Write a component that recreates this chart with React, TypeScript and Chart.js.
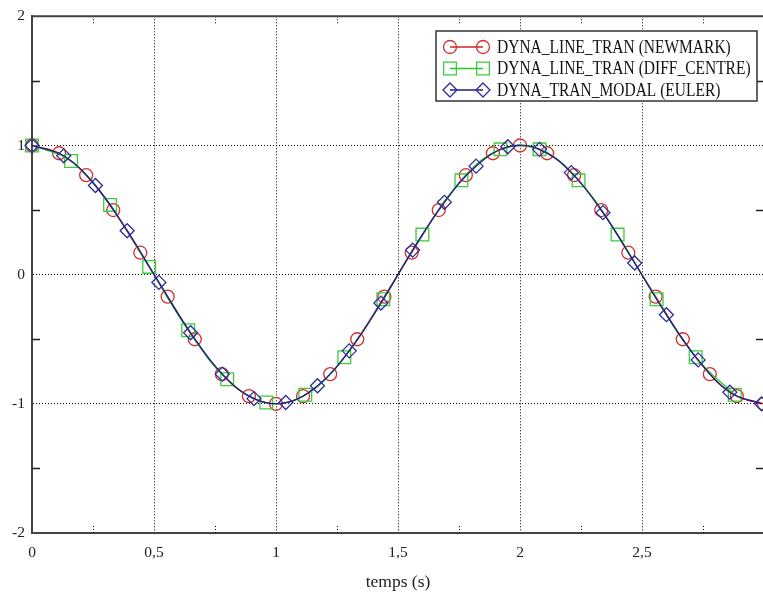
import React, { useEffect, useRef } from 'react';
import { Chart, registerables } from 'chart.js';

Chart.register(...registerables);

// ---- data ----
const seriesNames = [
  'DYNA_LINE_TRAN (NEWMARK)',
  'DYNA_LINE_TRAN (DIFF_CENTRE)',
  'DYNA_TRAN_MODAL (EULER)',
];

const newmarkT = [0, 0.111, 0.222, 0.333, 0.444, 0.556, 0.667, 0.778, 0.889, 1.0, 1.111, 1.222, 1.333, 1.444, 1.556, 1.667, 1.778, 1.889, 2.0, 2.111, 2.222, 2.333, 2.444, 2.556, 2.667, 2.778, 2.889, 3.0];
const newmarkY = [1, 0.94, 0.77, 0.5, 0.17, -0.17, -0.5, -0.77, -0.94, -1, -0.94, -0.77, -0.5, -0.17, 0.17, 0.5, 0.77, 0.94, 1, 0.94, 0.77, 0.5, 0.17, -0.17, -0.5, -0.77, -0.94, -1];

const diffT = [0, 0.16, 0.32, 0.48, 0.64, 0.8, 0.96, 1.12, 1.28, 1.44, 1.6, 1.76, 1.92, 2.08, 2.24, 2.4, 2.56, 2.72, 2.88];
const diffY = [1, 0.88, 0.54, 0.06, -0.43, -0.81, -0.99, -0.93, -0.64, -0.19, 0.31, 0.73, 0.97, 0.97, 0.73, 0.31, -0.19, -0.64, -0.93];

const eulerT = [0, 0.13, 0.26, 0.39, 0.52, 0.65, 0.78, 0.91, 1.04, 1.17, 1.3, 1.43, 1.56, 1.69, 1.82, 1.95, 2.08, 2.21, 2.34, 2.47, 2.6, 2.73, 2.86, 2.99];
const eulerY = [1, 0.92, 0.69, 0.34, -0.06, -0.45, -0.77, -0.96, -0.99, -0.86, -0.59, -0.22, 0.19, 0.56, 0.84, 0.99, 0.97, 0.79, 0.48, 0.09, -0.31, -0.66, -0.91, -1.0];

const xMinorTicks = [0.25, 0.75, 1.25, 1.75, 2.25, 2.75];
const yMinorTicks = [1.5, 0.5, -0.5, -1.5];
const xAxisTitle = 'temps (s)';

// ---- styles ----
const FONT = "'Liberation Serif', 'Times New Roman', serif";
const AXIS_COLOR = '#444444';
const seriesStyles = [
  { line: '#d02525', marker: '#d23030', shape: 'circle', radius: 6.5 },
  { line: '#2ec42e', marker: '#3ccc3c', shape: 'rect', radius: 9 },
  { line: '#1c1c8a', marker: '#2d2d99', shape: 'rectRot', radius: 7 },
];

function drawMarker(ctx: CanvasRenderingContext2D, shape: string, x: number, y: number, r: number) {
  ctx.beginPath();
  if (shape === 'circle') {
    ctx.arc(x, y, r, 0, Math.PI * 2);
  } else if (shape === 'rect') {
    const s = r * Math.SQRT1_2;
    ctx.rect(x - s, y - s, 2 * s, 2 * s);
  } else {
    ctx.moveTo(x - r, y);
    ctx.lineTo(x, y - r);
    ctx.lineTo(x + r, y);
    ctx.lineTo(x, y + r);
    ctx.closePath();
  }
  ctx.stroke();
}

const decorPlugin = {
  id: 'decor',
  afterDraw(chart: any) {
    const { ctx, chartArea } = chart;
    const xs = chart.scales.x;
    const ys = chart.scales.y;
    const { left, right, top, bottom } = chartArea;
    ctx.save();

    // minor x ticks (dotted), bottom and top
    ctx.strokeStyle = '#000';
    ctx.lineWidth = 1;
    ctx.setLineDash([1, 2]);
    xMinorTicks.forEach((v) => {
      const px = Math.round(xs.getPixelForValue(v)) + 0.5;
      ctx.beginPath();
      ctx.moveTo(px, bottom);
      ctx.lineTo(px, bottom - 8);
      ctx.moveTo(px, top);
      ctx.lineTo(px, top + 7);
      ctx.stroke();
    });
    ctx.setLineDash([]);

    // minor y ticks (solid), left and right
    ctx.strokeStyle = '#222';
    ctx.lineWidth = 1.5;
    yMinorTicks.forEach((v) => {
      const py = Math.round(ys.getPixelForValue(v)) + 0.5;
      ctx.beginPath();
      ctx.moveTo(left, py);
      ctx.lineTo(left + 8, py);
      ctx.moveTo(right, py);
      ctx.lineTo(right - 8, py);
      ctx.stroke();
    });

    // top and right frame lines
    ctx.strokeStyle = AXIS_COLOR;
    ctx.lineWidth = 2;
    ctx.beginPath();
    ctx.moveTo(left, top);
    ctx.lineTo(right, top);
    ctx.lineTo(right, bottom);
    ctx.stroke();

    // legend
    const bx = 436, by = 31, bw = 321, bh = 70;
    ctx.fillStyle = '#ffffff';
    ctx.fillRect(bx, by, bw, bh);
    ctx.strokeStyle = '#333';
    ctx.lineWidth = 1.5;
    ctx.strokeRect(bx, by, bw, bh);
    seriesNames.forEach((name, i) => {
      const st = seriesStyles[i];
      const ry = by + 16 + i * 21.5;
      const x1 = bx + 14, x2 = bx + 47;
      ctx.strokeStyle = st.line;
      ctx.lineWidth = 1.3;
      ctx.beginPath();
      ctx.moveTo(x1, ry);
      ctx.lineTo(x2, ry);
      ctx.stroke();
      ctx.strokeStyle = st.marker;
      ctx.lineWidth = 1.3;
      drawMarker(ctx, st.shape, x1, ry, st.radius);
      drawMarker(ctx, st.shape, x2, ry, st.radius);
      // text, slightly stretched vertically like the reference
      ctx.save();
      ctx.translate(bx + 61, ry + 1);
      ctx.scale(1, 1.15);
      ctx.font = `15.5px ${FONT}`;
      ctx.textBaseline = 'middle';
      ctx.textAlign = 'left';
      ctx.fillStyle = '#111';
      ctx.fillText(name, 0, 0);
      ctx.restore();
    });
    ctx.restore();
  },
};

const seriesT = [newmarkT, diffT, eulerT];
const seriesY = [newmarkY, diffY, eulerY];

export default function App() {
  const ref = useRef<HTMLCanvasElement>(null);
  useEffect(() => {
    const datasets = seriesNames.map((name, i) => {
      const st = seriesStyles[i];
      return {
        label: name,
        data: seriesT[i].map((t, k) => ({ x: t, y: seriesY[i][k] })),
        borderColor: st.line,
        borderWidth: 1.3,
        backgroundColor: 'transparent',
        pointStyle: st.shape,
        pointRadius: st.radius,
        pointBorderColor: st.marker,
        pointBackgroundColor: 'transparent',
        pointBorderWidth: 1.3,
        tension: 0.4,
        fill: false,
        clip: false as any,
        order: 3 - i,
      };
    });
    const chart = new Chart(ref.current!, {
      type: 'line',
      data: { datasets },
      plugins: [decorPlugin],
      options: {
        animation: false,
        responsive: false,
        layout: { padding: { top: 15, right: 10, bottom: 0, left: 0 } },
        plugins: { legend: { display: false }, tooltip: { enabled: false } },
        scales: {
          x: {
            type: 'linear',
            min: 0,
            max: 3,
            ticks: {
              stepSize: 0.5,
              padding: 11,
              color: '#222',
              font: { family: FONT, size: 15.5 },
              maxRotation: 0,
              callback: (v: any) => (Number(v) >= 3 ? '' : String(v).replace('.', ',')),
            },
            grid: { color: '#000', lineWidth: 1, drawTicks: false },
            border: { display: true, color: AXIS_COLOR, width: 2, dash: [1, 2] },
            title: {
              display: true,
              text: xAxisTitle,
              color: '#222',
              font: { family: FONT, size: 17.5 },
              padding: { top: 0, bottom: 7 },
            },
            afterFit: (s: any) => { s.height = 67; },
          },
          y: {
            type: 'linear',
            min: -2,
            max: 2,
            ticks: {
              stepSize: 1,
              padding: 7,
              color: '#222',
              font: { family: FONT, size: 15.5 },
            },
            grid: { color: '#000', lineWidth: 1, drawTicks: false },
            border: { display: true, color: AXIS_COLOR, width: 2, dash: [1, 2] },
            afterFit: (s: any) => { s.width = 32; },
          },
        },
      },
    } as any);
    return () => chart.destroy();
  }, []);
  return (
    <div style={{ position: 'fixed', left: 0, top: 0, width: 775, height: 600, background: '#fff' }}>
      <canvas ref={ref} width={775} height={600} />
    </div>
  );
}
